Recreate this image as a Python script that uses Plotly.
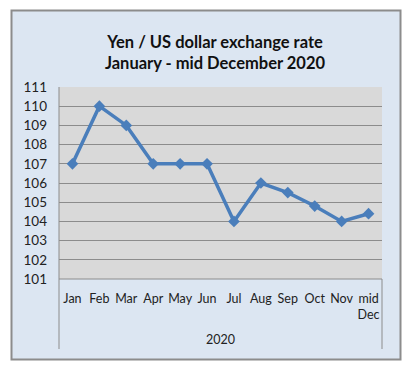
import plotly.graph_objects as go

months = ["Jan", "Feb", "Mar", "Apr", "May", "Jun", "Jul", "Aug", "Sep", "Oct", "Nov", "mid<br>Dec"]
rates = [107, 110, 109, 107, 107, 107, 104, 106, 105.5, 104.8, 104, 104.4]
year_label = "2020"
y_ticks = list(range(101, 112))

W, H = 413, 372
L, R, T, B = 59, 382, 87, 279
pw, ph = R - L, B - T

def px_x(x):
    return (x - L) / pw

def px_y(y):
    return (B - y) / ph

fig = go.Figure()
fig.add_trace(go.Scatter(
    x=months, y=rates, mode="lines+markers",
    line=dict(color="#4A7EBB", width=3.5),
    marker=dict(symbol="diamond", size=9, color="#4A7EBB"),
    showlegend=False, hoverinfo="skip",
))

font = "Lato, 'Open Sans', sans-serif"
fig.update_layout(
    width=W, height=H,
    margin=dict(l=L, r=W - R, t=T, b=H - B),
    paper_bgcolor="white",
    plot_bgcolor="rgba(0,0,0,0)",
    font=dict(family=font, color="#222222"),
    title=dict(
        text="<b>Yen / US dollar exchange rate<br>January - mid December 2020</b>",
        x=(215) / W, xanchor="center", y=1 - 48 / H, yanchor="middle",
        font=dict(size=16.5, color="#111111", family=font),
    ),
    xaxis=dict(
        type="category", tickmode="array", tickvals=months, ticktext=months,
        showgrid=False, showline=False, zeroline=False, ticks="",
        tickfont=dict(size=12.5, color="#222222"), ticklabelstandoff=10,
        range=[-0.5, len(months) - 0.5],
    ),
    yaxis=dict(
        range=[101, 111], tickmode="array", tickvals=y_ticks,
        showgrid=True, gridcolor="#8C8C8C", gridwidth=1,
        zeroline=False, showline=False, ticks="",
        tickfont=dict(size=13.5, color="#222222"), ticklabelstandoff=11,
    ),
    shapes=[
        dict(type="rect", xref="paper", yref="paper", layer="below",
             x0=px_x(11.5), x1=px_x(400.5), y0=px_y(359.5), y1=px_y(10.5),
             fillcolor="#DCE6F2", line=dict(color="#8C8C8C", width=2)),
        dict(type="rect", xref="paper", yref="paper", layer="below",
             x0=0, x1=1, y0=0, y1=1,
             fillcolor="#D9D9D9", line=dict(width=0)),
        dict(type="line", xref="paper", yref="paper",
             x0=0, x1=0, y0=px_y(349), y1=1,
             line=dict(color="#8C8C8C", width=1)),
        dict(type="line", xref="paper", yref="paper",
             x0=1, x1=1, y0=px_y(349), y1=0,
             line=dict(color="#8C8C8C", width=1)),
        dict(type="line", xref="paper", yref="paper",
             x0=0, x1=1, y0=0, y1=0,
             line=dict(color="#8C8C8C", width=1)),
    ],
    annotations=[
        dict(text=year_label, xref="paper", yref="paper", x=0.5, y=px_y(339),
             xanchor="center", yanchor="middle", showarrow=False,
             font=dict(size=12.5, color="#222222", family=font)),
    ],
)

fig.write_html(
    "out.html",
    config={"displayModeBar": False, "staticPlot": True},
    post_script="document.body.style.margin='0';document.body.style.padding='0';",
)
